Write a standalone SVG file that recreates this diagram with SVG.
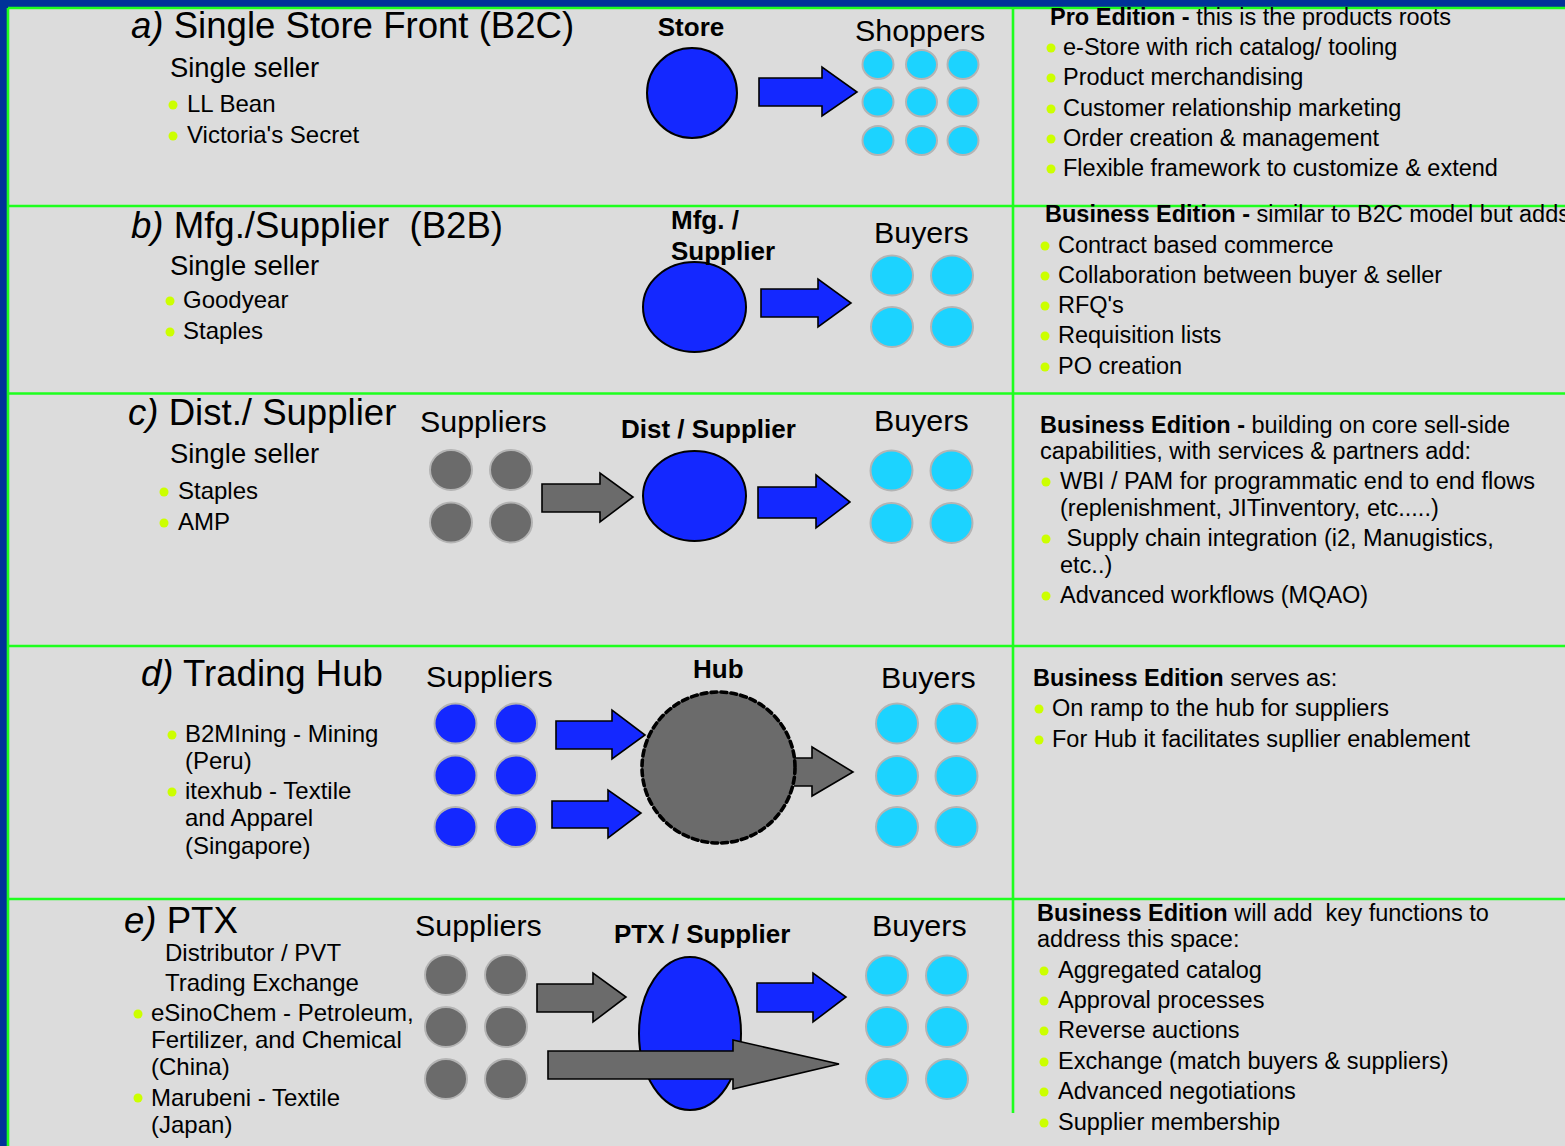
<svg xmlns="http://www.w3.org/2000/svg" width="1565" height="1146" viewBox="0 0 1565 1146">
  <style>
    text { font-family: "Liberation Sans", Arial, Helvetica, sans-serif; fill: #000; }
    .title { font-size: 36.6px; }
    .it { font-style: italic; }
    .sub { font-size: 27.4px; }
    .li { font-size: 24px; }
    .hdr { font-size: 30.4px; }
    .lbl { font-size: 26px; font-weight: bold; }
    .rt { font-size: 23.5px; }
    .b { font-weight: bold; }
    .rule { stroke: #1eff1e; stroke-width: 2.6; fill: none; }
    .dot { fill: #ccff00; }
    .big { fill: #1428ff; stroke: #000; stroke-width: 2; }
    .cy { fill: #1cd3ff; stroke: #b4b4b4; stroke-width: 2; }
    .gy { fill: #6b6b6b; stroke: #b4b4b4; stroke-width: 2; }
    .bl { fill: #1428ff; stroke: #b4b4b4; stroke-width: 2; }
    .arr-b { fill: #1428ff; stroke: #000; stroke-width: 1.6; stroke-linejoin: miter; }
    .arr-g { fill: #6b6b6b; stroke: #000; stroke-width: 1.6; stroke-linejoin: miter; }
    .hub { fill: #6b6b6b; stroke: #000; stroke-width: 3.6; stroke-dasharray: 6 4; stroke-linecap: round; }
  </style>
  <defs>
    <ellipse id="pip" cx="0" cy="0" rx="21" ry="20"/>
  </defs>

  <!-- frame -->
  <rect x="0" y="0" width="1565" height="1146" fill="#003399"/>
  <rect x="8" y="8" width="1557" height="1138" fill="#dcdcdc"/>
  <g id="rules">
    <line class="rule" x1="8" y1="8" x2="1565" y2="8"/>
    <line class="rule" x1="8" y1="8" x2="8" y2="1146"/>
    <line class="rule" x1="8" y1="206" x2="1565" y2="206"/>
    <line class="rule" x1="8" y1="393.5" x2="1565" y2="393.5"/>
    <line class="rule" x1="8" y1="646" x2="1565" y2="646"/>
    <line class="rule" x1="8" y1="899" x2="1565" y2="899"/>
    <line class="rule" x1="1013" y1="8" x2="1013" y2="1113"/>
  </g>

  <!-- ===== row a: single store front ===== -->
  <g id="a-desc">
    <text class="title" x="131" y="38"><tspan class="it">a)</tspan> Single Store Front (B2C)</text>
    <text class="sub" x="170" y="77">Single seller</text>
    <circle class="dot" cx="173" cy="105" r="4.5"/>
    <text class="li" x="187" y="112">LL Bean</text>
    <circle class="dot" cx="173" cy="136" r="4.5"/>
    <text class="li" x="187" y="143">Victoria's Secret</text>
  </g>
  <g id="a-store">
    <text class="lbl" x="691" y="36" text-anchor="middle">Store</text>
    <ellipse class="big" cx="692" cy="93" rx="45" ry="45"/>
  </g>
  <g id="a-shoppers">
    <text class="hdr" x="855" y="41">Shoppers</text>
    <ellipse class="cy" cx="878" cy="64.5" rx="15.5" ry="14.5"/>
    <ellipse class="cy" cx="921.5" cy="64.5" rx="15.5" ry="14.5"/>
    <ellipse class="cy" cx="963" cy="64.5" rx="15.5" ry="14.5"/>
    <ellipse class="cy" cx="878" cy="102" rx="15.5" ry="14.5"/>
    <ellipse class="cy" cx="921.5" cy="102" rx="15.5" ry="14.5"/>
    <ellipse class="cy" cx="963" cy="102" rx="15.5" ry="14.5"/>
    <ellipse class="cy" cx="878" cy="140.5" rx="15.5" ry="14.5"/>
    <ellipse class="cy" cx="921.5" cy="140.5" rx="15.5" ry="14.5"/>
    <ellipse class="cy" cx="963" cy="140.5" rx="15.5" ry="14.5"/>
  </g>
  <g id="a-features">
    <text class="rt" x="1050" y="25"><tspan class="b">Pro Edition - </tspan>this is the products roots</text>
    <circle class="dot" cx="1051" cy="48" r="4.5"/>
    <text class="rt" x="1063" y="55">e-Store with rich catalog/ tooling</text>
    <circle class="dot" cx="1051" cy="78" r="4.5"/>
    <text class="rt" x="1063" y="85">Product merchandising</text>
    <circle class="dot" cx="1051" cy="109" r="4.5"/>
    <text class="rt" x="1063" y="116">Customer relationship marketing</text>
    <circle class="dot" cx="1051" cy="139" r="4.5"/>
    <text class="rt" x="1063" y="146">Order creation &amp; management</text>
    <circle class="dot" cx="1051" cy="169" r="4.5"/>
    <text class="rt" x="1063" y="176">Flexible framework to customize &amp; extend</text>
  </g>

  <!-- ===== row b: manufacturer / supplier ===== -->
  <g id="b-desc">
    <text class="title" x="131" y="238" xml:space="preserve"><tspan class="it">b)</tspan> Mfg./Supplier  (B2B)</text>
    <text class="sub" x="170" y="275">Single seller</text>
    <circle class="dot" cx="170" cy="301" r="4.5"/>
    <text class="li" x="183" y="308">Goodyear</text>
    <circle class="dot" cx="170" cy="332" r="4.5"/>
    <text class="li" x="183" y="339">Staples</text>
  </g>
  <g id="b-supplier">
    <ellipse class="big" cx="694.5" cy="307" rx="51.5" ry="45"/>
    <text class="lbl" x="671" y="229">Mfg. /</text>
    <text class="lbl" x="671" y="260">Supplier</text>
  </g>
  <g id="b-buyers">
    <text class="hdr" x="874" y="243">Buyers</text>
    <use href="#pip" class="cy" x="892" y="275.5"/>
    <use href="#pip" class="cy" x="952" y="275.5"/>
    <use href="#pip" class="cy" x="892" y="327"/>
    <use href="#pip" class="cy" x="952" y="327"/>
  </g>
  <g id="b-features">
    <text class="rt" x="1045" y="222"><tspan class="b">Business Edition - </tspan>similar to B2C model but adds</text>
    <circle class="dot" cx="1045" cy="246" r="4.5"/>
    <text class="rt" x="1058" y="253">Contract based commerce</text>
    <circle class="dot" cx="1045" cy="276" r="4.5"/>
    <text class="rt" x="1058" y="283">Collaboration between buyer &amp; seller</text>
    <circle class="dot" cx="1045" cy="306" r="4.5"/>
    <text class="rt" x="1058" y="313">RFQ's</text>
    <circle class="dot" cx="1045" cy="336" r="4.5"/>
    <text class="rt" x="1058" y="343">Requisition lists</text>
    <circle class="dot" cx="1045" cy="367" r="4.5"/>
    <text class="rt" x="1058" y="374">PO creation</text>
  </g>

  <!-- ===== row c: distributor / supplier ===== -->
  <g id="c-desc">
    <text class="title" x="128" y="425"><tspan class="it">c)</tspan> Dist./ Supplier</text>
    <text class="sub" x="170" y="463">Single seller</text>
    <circle class="dot" cx="164" cy="492" r="4.5"/>
    <text class="li" x="178" y="499">Staples</text>
    <circle class="dot" cx="164" cy="523" r="4.5"/>
    <text class="li" x="178" y="530">AMP</text>
  </g>
  <g id="c-suppliers">
    <text class="hdr" x="420" y="432">Suppliers</text>
    <use href="#pip" class="gy" x="451" y="470"/>
    <use href="#pip" class="gy" x="511" y="470"/>
    <use href="#pip" class="gy" x="451" y="522.5"/>
    <use href="#pip" class="gy" x="511" y="522.5"/>
  </g>
  <g id="c-dist">
    <text class="lbl" x="621" y="438">Dist / Supplier</text>
    <ellipse class="big" cx="694.5" cy="496" rx="51.5" ry="45"/>
  </g>
  <g id="c-buyers">
    <text class="hdr" x="874" y="431">Buyers</text>
    <use href="#pip" class="cy" x="891.5" y="470.5"/>
    <use href="#pip" class="cy" x="951.5" y="470.5"/>
    <use href="#pip" class="cy" x="891.5" y="523"/>
    <use href="#pip" class="cy" x="951.5" y="523"/>
  </g>
  <g id="c-features">
    <text class="rt" x="1040" y="433"><tspan class="b">Business Edition - </tspan>building on core sell-side</text>
    <text class="rt" x="1040" y="459">capabilities, with services &amp; partners add:</text>
    <circle class="dot" cx="1046" cy="482" r="4.5"/>
    <text class="rt" x="1060" y="489">WBI / PAM for programmatic end to end flows</text>
    <text class="rt" x="1060" y="516">(replenishment, JITinventory, etc.....)</text>
    <circle class="dot" cx="1046" cy="539" r="4.5"/>
    <text class="rt" x="1060" y="546" xml:space="preserve"> Supply chain integration (i2, Manugistics,</text>
    <text class="rt" x="1060" y="573">etc..)</text>
    <circle class="dot" cx="1046" cy="596" r="4.5"/>
    <text class="rt" x="1060" y="603">Advanced workflows (MQAO)</text>
  </g>

  <!-- ===== row d: trading hub ===== -->
  <g id="d-desc">
    <text class="title" x="141" y="686"><tspan class="it">d)</tspan> Trading Hub</text>
    <circle class="dot" cx="172" cy="735" r="4.5"/>
    <text class="li" x="185" y="742">B2MIning - Mining</text>
    <text class="li" x="185" y="769">(Peru)</text>
    <circle class="dot" cx="172" cy="792" r="4.5"/>
    <text class="li" x="185" y="799">itexhub - Textile</text>
    <text class="li" x="185" y="826">and Apparel</text>
    <text class="li" x="185" y="854">(Singapore)</text>
  </g>
  <g id="d-suppliers">
    <text class="hdr" x="426" y="687">Suppliers</text>
    <use href="#pip" class="bl" x="455.5" y="723.5"/>
    <use href="#pip" class="bl" x="516" y="723.5"/>
    <use href="#pip" class="bl" x="455.5" y="775.5"/>
    <use href="#pip" class="bl" x="516" y="775.5"/>
    <use href="#pip" class="bl" x="455.5" y="827"/>
    <use href="#pip" class="bl" x="516" y="827"/>
  </g>
  <g id="d-hub">
    <text class="lbl" x="693" y="678">Hub</text>
    <path class="arr-g" d="M794 758 H812 V747 L853 772 L812 796 V786 H794"/>
    <ellipse class="hub" cx="718.5" cy="767.5" rx="76.5" ry="75.5"/>
  </g>
  <g id="d-buyers">
    <text class="hdr" x="881" y="688">Buyers</text>
    <use href="#pip" class="cy" x="897" y="723.5"/>
    <use href="#pip" class="cy" x="956.5" y="723.5"/>
    <use href="#pip" class="cy" x="897" y="776"/>
    <use href="#pip" class="cy" x="956.5" y="776"/>
    <use href="#pip" class="cy" x="897" y="827"/>
    <use href="#pip" class="cy" x="956.5" y="827"/>
  </g>
  <g id="d-features">
    <text class="rt" x="1033" y="686"><tspan class="b">Business Edition</tspan> serves as:</text>
    <circle class="dot" cx="1039" cy="709" r="4.5"/>
    <text class="rt" x="1052" y="716">On ramp to the hub for suppliers</text>
    <circle class="dot" cx="1039" cy="740" r="4.5"/>
    <text class="rt" x="1052" y="747">For Hub it facilitates supllier enablement</text>
  </g>

  <!-- ===== row e: private trading exchange ===== -->
  <g id="e-desc">
    <text class="title" x="124" y="933"><tspan class="it">e)</tspan> PTX</text>
    <text class="li" x="165" y="961">Distributor / PVT</text>
    <text class="li" x="165" y="991">Trading Exchange</text>
    <circle class="dot" cx="138" cy="1014" r="4.5"/>
    <text class="li" x="151" y="1021">eSinoChem - Petroleum,</text>
    <text class="li" x="151" y="1048">Fertilizer, and Chemical</text>
    <text class="li" x="151" y="1075">(China)</text>
    <circle class="dot" cx="138" cy="1098" r="4.5"/>
    <text class="li" x="151" y="1106">Marubeni - Textile</text>
    <text class="li" x="151" y="1133">(Japan)</text>
  </g>
  <g id="e-suppliers">
    <text class="hdr" x="415" y="936">Suppliers</text>
    <use href="#pip" class="gy" x="446" y="975"/>
    <use href="#pip" class="gy" x="506" y="975"/>
    <use href="#pip" class="gy" x="446" y="1027"/>
    <use href="#pip" class="gy" x="506" y="1027"/>
    <use href="#pip" class="gy" x="446" y="1079"/>
    <use href="#pip" class="gy" x="506" y="1079"/>
  </g>
  <g id="e-ptx">
    <text class="lbl" x="614" y="943">PTX / Supplier</text>
    <ellipse class="big" cx="690" cy="1033.5" rx="51" ry="76.5"/>
  </g>
  <g id="e-buyers">
    <text class="hdr" x="872" y="936">Buyers</text>
    <use href="#pip" class="cy" x="887" y="975.5"/>
    <use href="#pip" class="cy" x="947" y="975.5"/>
    <use href="#pip" class="cy" x="887" y="1027"/>
    <use href="#pip" class="cy" x="947" y="1027"/>
    <use href="#pip" class="cy" x="887" y="1079"/>
    <use href="#pip" class="cy" x="947" y="1079"/>
  </g>
  <g id="e-features">
    <text class="rt" x="1037" y="921" xml:space="preserve"><tspan class="b">Business Edition</tspan> will add  key functions to</text>
    <text class="rt" x="1037" y="947">address this space:</text>
    <circle class="dot" cx="1044" cy="971" r="4.5"/>
    <text class="rt" x="1058" y="978">Aggregated catalog</text>
    <circle class="dot" cx="1044" cy="1001" r="4.5"/>
    <text class="rt" x="1058" y="1008">Approval processes</text>
    <circle class="dot" cx="1044" cy="1031" r="4.5"/>
    <text class="rt" x="1058" y="1038">Reverse auctions</text>
    <circle class="dot" cx="1044" cy="1062" r="4.5"/>
    <text class="rt" x="1058" y="1069">Exchange (match buyers &amp; suppliers)</text>
    <circle class="dot" cx="1044" cy="1092" r="4.5"/>
    <text class="rt" x="1058" y="1099">Advanced negotiations</text>
    <circle class="dot" cx="1044" cy="1123" r="4.5"/>
    <text class="rt" x="1058" y="1130">Supplier membership</text>
  </g>

  <!-- flow arrows -->
  <g id="connectors">
    <path class="arr-b" d="M759 78 H822 V67 L857 92 L822 116 V106 H759 Z"/>
    <path class="arr-b" d="M761 289 H818 V279 L851 303 L818 327 V317 H761 Z"/>
    <path class="arr-g" d="M542 484 H600 V473 L633 497 L600 522 V512 H542 Z"/>
    <path class="arr-b" d="M758 487 H816 V475 L850 502 L816 528 V518 H758 Z"/>
    <path class="arr-b" d="M556 721 H612 V710 L645 735 L612 759 V749 H556 Z"/>
    <path class="arr-b" d="M552 801 H608 V790 L641 813 L608 838 V828 H552 Z"/>
    <path class="arr-g" d="M537 984 H593 V973 L626 997 L593 1022 V1012 H537 Z"/>
    <path class="arr-b" d="M757 983 H813 V973 L846 997 L813 1022 V1012 H757 Z"/>
    <path class="arr-g" d="M548 1051 H733 V1040 L839 1064 L733 1089 V1079 H548 Z"/>
  </g>
</svg>
